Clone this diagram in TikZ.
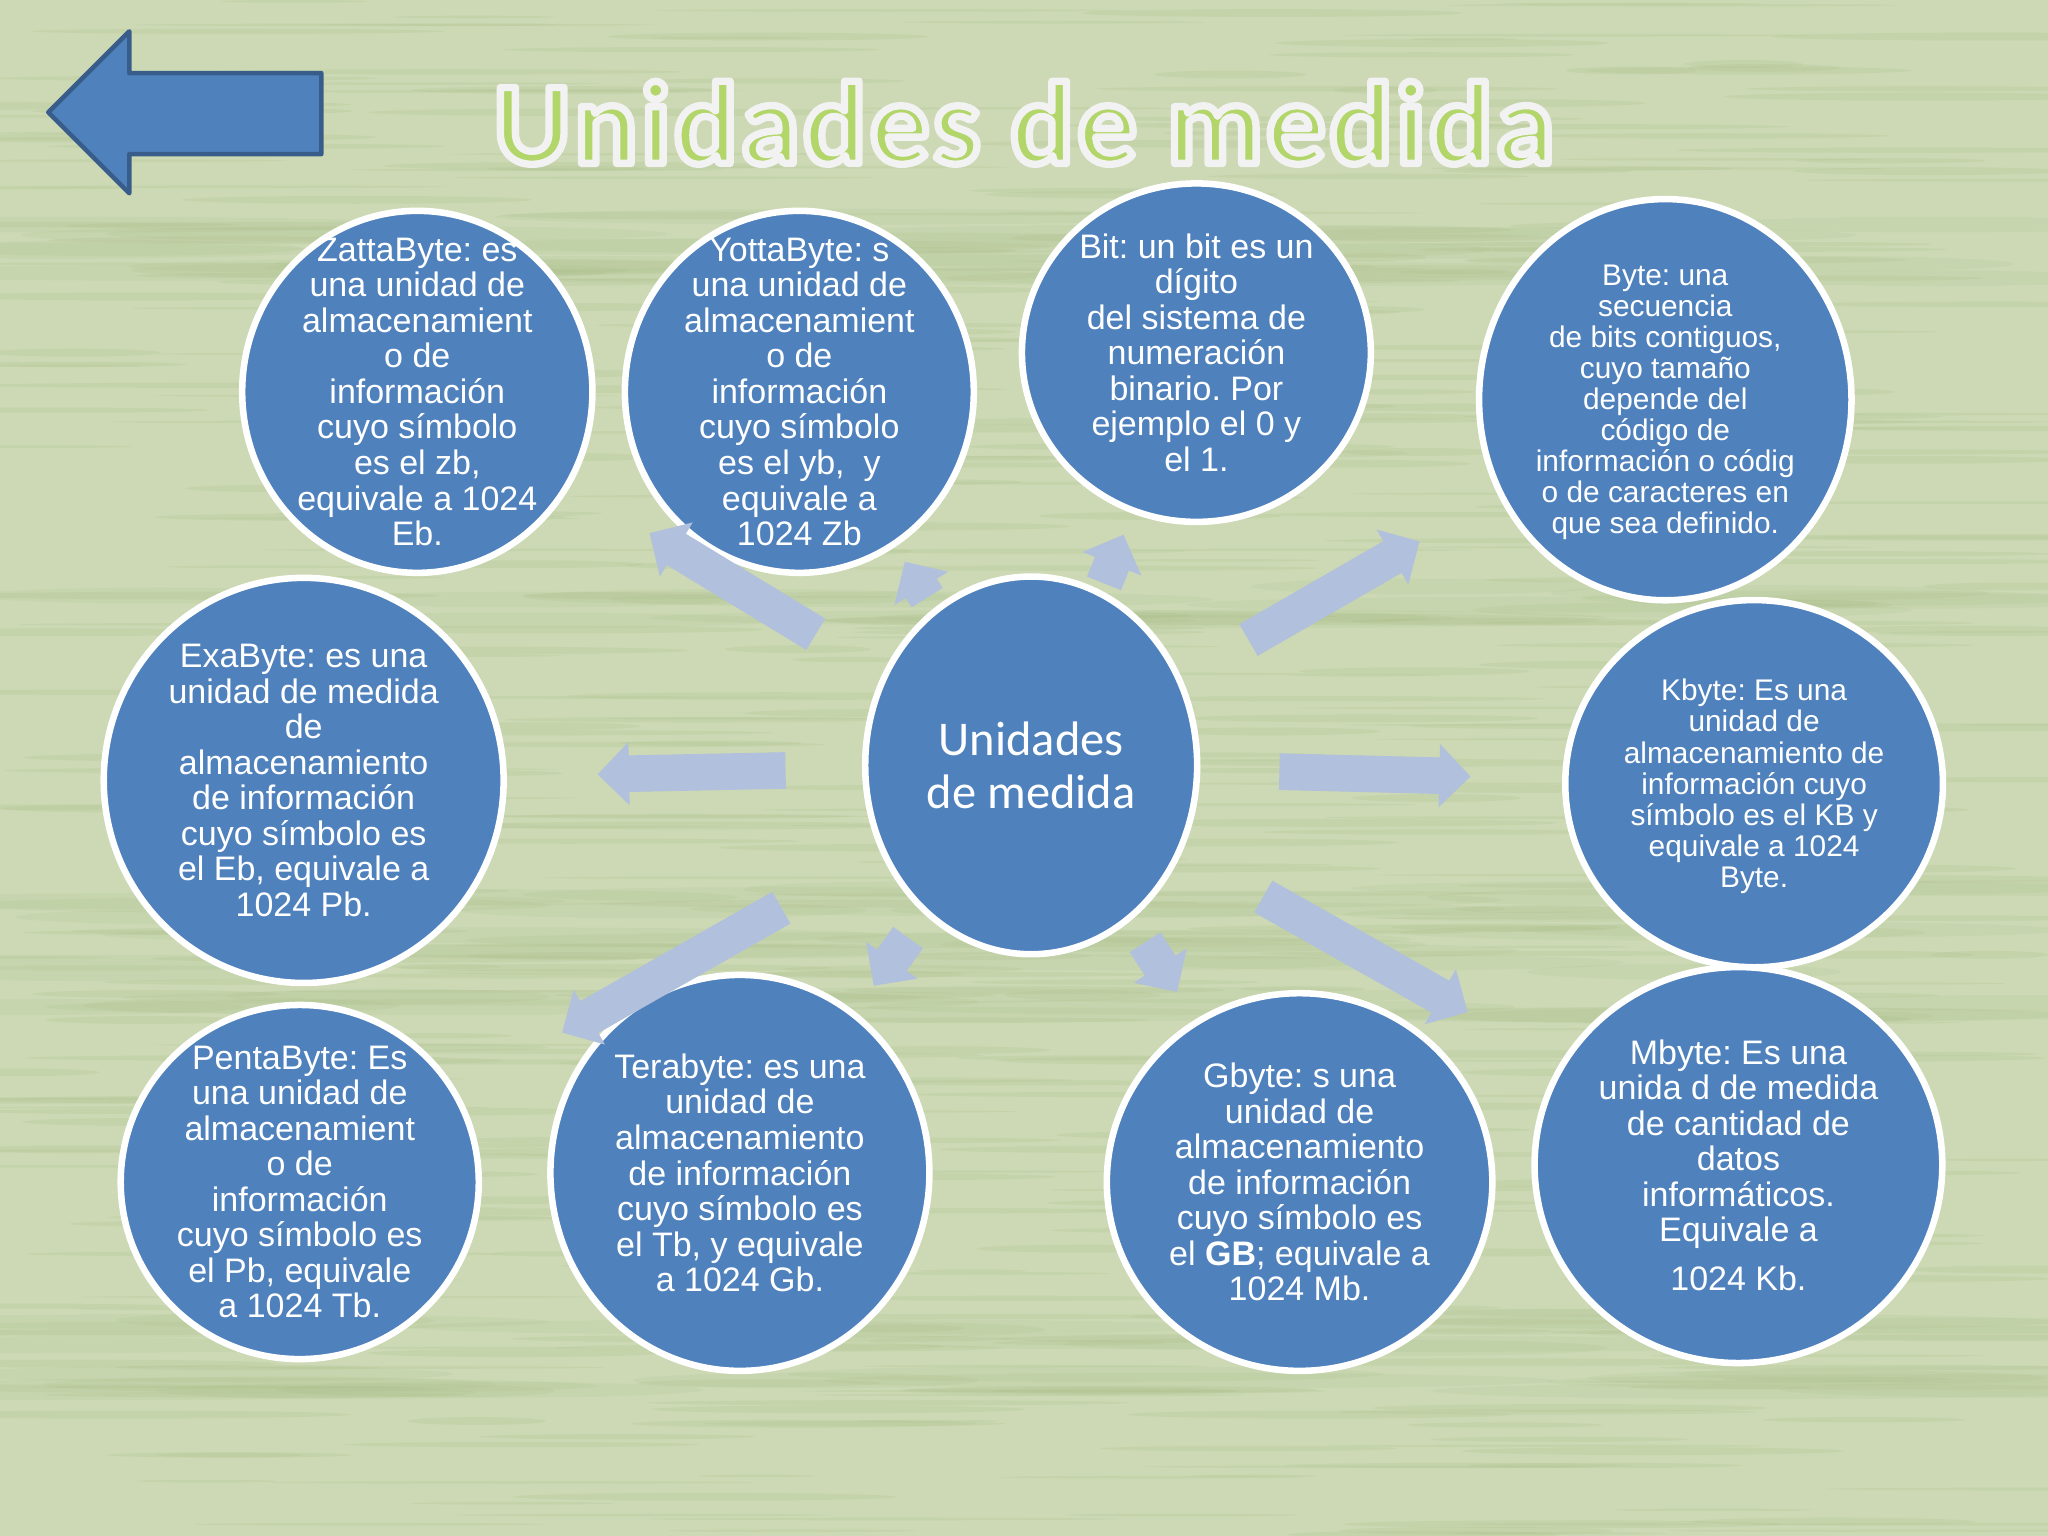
\documentclass[tikz,border=0pt]{standalone}
\usepackage{fontspec}
\setmainfont{Liberation Sans}
\newfontfamily\calibrifont{Carlito}
\newfontfamily\titlefont[LetterSpace=3.5]{Carlito}
\usetikzlibrary{shapes.geometric, arrows.meta}
\definecolor{paper}{HTML}{CCD9B4}
\definecolor{streak}{HTML}{9DB578}
\definecolor{bubblefill}{HTML}{4F81BD}
\definecolor{bubbleedge}{HTML}{385D8A}
\definecolor{spokefill}{HTML}{B1C0DD}
\definecolor{titlefill}{HTML}{B2D66A}
\tikzset{
  bubble/.style={ellipse, draw=white, fill=bubblefill, line width=0.05cm, inner sep=0pt},
  bigtext/.style={text=white, align=center, inner sep=0pt, font=\frenchspacing\fontsize{7.4}{7.74}\selectfont},
  smalltext/.style={text=white, align=center, inner sep=0pt, yshift=-0.02cm, font=\frenchspacing\fontsize{6.5}{6.75}\selectfont},
  spoke/.style={draw=spokefill, line width=0.28cm, -{Triangle[length=0.24cm,width=0.47cm]}},
}
\begin{document}
\begin{tikzpicture}[x=0.01cm,y=-0.01cm]
\useasboundingbox (0,0) rectangle (1568,1176);
% fondo
\fill[paper] (0,0) rectangle (1568,1176);
\pgfmathsetseed{41}
\foreach \i in {1,...,520}{
  \pgfmathsetmacro{\sx}{random(0,1568)}
  \pgfmathsetmacro{\sy}{random(0,1176)}
  \pgfmathsetmacro{\sl}{random(40,200)}
  \pgfmathsetmacro{\sh}{random(1,3)}
  \fill[streak, opacity=0.14] (\sx,\sy) ellipse ({\sl*0.01cm} and {\sh*0.01cm});
}
% bandas mas oscuras
\foreach \by/\bh in {180/14,205/8,462/14,690/12,730/18,770/8,1020/12,1060/8}{
  \foreach \j in {1,...,14}{
    \pgfmathsetmacro{\sx}{random(0,1568)}
    \pgfmathsetmacro{\sy}{\by+random(-\bh,\bh)}
    \pgfmathsetmacro{\sl}{random(120,320)}
    \fill[streak, opacity=0.11] (\sx,\sy) ellipse ({\sl*0.01cm} and {0.06cm});
  }
}
% flecha de volver
\draw[fill=bubblefill, draw=bubbleedge, line width=0.035cm, line join=round]
  (37,86) -- (99,24) -- (99,56) -- (246,56) -- (246,118) -- (99,118) -- (99,148) -- cycle;
% titulo
\node[text=titlefill, inner sep=0pt, font=\titlefont\bfseries\fontsize{25.5}{30}\selectfont] (title) at (784,94)
  {\special{pdf:code 1.6 w 0.95 0.95 0.95 RG 1 j 2 Tr}Unidades de medida\special{pdf:code 0 Tr}};
% burbujas
\node[bubble, minimum width=2.68cm, minimum height=2.77cm, label={[bigtext]center:{ZattaByte: es\\una unidad de\\almacenamient\\o de\\información\\cuyo símbolo\\es el zb,\\equivale a 1024\\Eb.}}] (zatta) at (319.5,300) {};
\node[bubble, minimum width=2.67cm, minimum height=2.77cm, label={[bigtext]center:{YottaByte: s\\una unidad de\\almacenamient\\o de\\información\\cuyo símbolo\\es el yb,\ \ y\\equivale a\\1024 Zb}}] (yotta) at (612,300) {};
\node[bubble, minimum width=2.67cm, minimum height=2.59cm, label={[bigtext]center:{Bit: un bit es un\\dígito\\del sistema de\\numeración\\binario. Por\\ejemplo el 0 y\\el 1.}}] (bit) at (916,270) {};
\node[bubble, minimum width=2.85cm, minimum height=3.07cm, label={[smalltext]center:{Byte: una\\secuencia\\de bits contiguos,\\cuyo tamaño\\depende del\\código de\\información o códig\\o de caracteres en\\que sea definido.}}] (byte) at (1275,306) {};
\node[bubble, minimum width=3.06cm, minimum height=3.10cm, label={[bigtext]center:{ExaByte: es una\\unidad de medida\\de\\almacenamiento\\de información\\cuyo símbolo es\\el Eb, equivale a\\1024 Pb.}}] (exa) at (232.5,597.5) {};
\node[bubble, minimum width=2.89cm, minimum height=2.81cm, label={[smalltext]center:{Kbyte: Es una\\unidad de\\almacenamiento de\\información cuyo\\símbolo es el KB y\\equivale a 1024\\Byte.}}] (kbyte) at (1343,600) {};
\node[bubble, minimum width=2.74cm, minimum height=2.71cm, label={[bigtext]center:{PentaByte: Es\\una unidad de\\almacenamient\\o de\\información\\cuyo símbolo es\\el Pb, equivale\\a 1024 Tb.}}] (penta) at (229.5,905) {};
\node[bubble, minimum width=2.90cm, minimum height=3.03cm, label={[bigtext]center:{Terabyte: es una\\unidad de\\almacenamiento\\de información\\cuyo símbolo es\\el Tb, y equivale\\a 1024 Gb.}}] (tera) at (566.5,898) {};
\node[bubble, minimum width=2.95cm, minimum height=2.89cm, label={[bigtext]center:{Gbyte: s una\\unidad de\\almacenamiento\\de información\\cuyo símbolo es\\el \textbf{GB}; equivale a\\1024 Mb.}}] (gbyte) at (995,905) {};
\node[bubble, minimum width=3.12cm, minimum height=3.03cm, label={[bigtext]center:{Mbyte: Es una\\unida d de medida\\de cantidad de\\datos\\informáticos.\\Equivale a\\[0.1cm]1024 Kb.}}] (mbyte) at (1331,892) {};
\node[bubble, minimum width=2.54cm, minimum height=2.89cm, label={[text=white, align=center, inner sep=0pt, font=\calibrifont\fontsize{10.55}{11.4}\selectfont]center:{Unidades\\de medida}}] (center) at (789.5,586) {};
% flechas
\draw[spoke, shorten <=1.92cm, shorten >=2.17cm] (center.center) -- (byte.center);
\draw[spoke, shorten <=1.90cm, shorten >=2.17cm] (center.center) -- (kbyte.center);
\draw[spoke, shorten <=2.04cm, shorten >=2.38cm] (center.center) -- (mbyte.center);
\draw[spoke, shorten <=1.61cm, shorten >=1.73cm] (center.center) -- (gbyte.center);
\draw[spoke, shorten <=1.62cm, shorten >=1.76cm] (center.center) -- (tera.center);
\draw[spoke, shorten <=2.20cm, shorten >=2.31cm] (center.center) -- (penta.center);
\draw[spoke, shorten <=1.88cm, shorten >=2.25cm] (center.center) -- (exa.center);
\draw[spoke, shorten <=1.93cm, shorten >=2.08cm] (center.center) -- (zatta.center);
\draw[spoke, shorten <=1.51cm, shorten >=1.53cm] (center.center) -- (yotta.center);
\draw[spoke, shorten <=1.50cm, shorten >=1.50cm] (center.center) -- (bit.center);
\end{tikzpicture}
\end{document}
